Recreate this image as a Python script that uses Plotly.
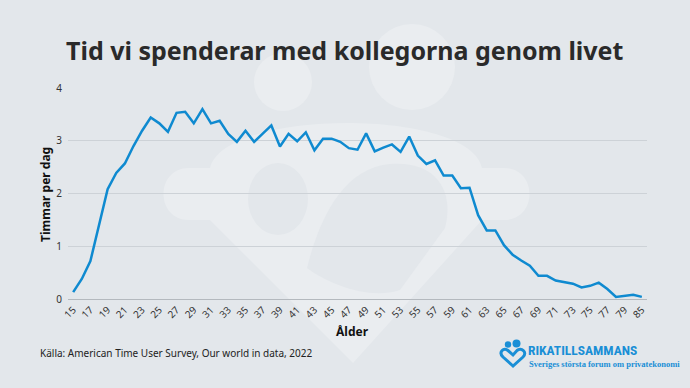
import plotly.graph_objects as go

ages = [str(a) for a in range(15, 81)] + ["85"]
hours = [0.13, 0.38, 0.72, 1.40, 2.08, 2.39, 2.57, 2.90, 3.19, 3.44,
         3.33, 3.17, 3.53, 3.55, 3.33, 3.60, 3.33, 3.38, 3.13, 2.98,
         3.19, 2.98, 3.14, 3.29, 2.89, 3.13, 2.99, 3.16, 2.82, 3.04,
         3.04, 2.98, 2.86, 2.83, 3.14, 2.80, 2.87, 2.93, 2.79, 3.08,
         2.72, 2.56, 2.63, 2.34, 2.34, 2.10, 2.11, 1.59, 1.30, 1.30,
         1.02, 0.84, 0.73, 0.63, 0.44, 0.44, 0.35, 0.32, 0.29, 0.22,
         0.25, 0.31, 0.19, 0.04, 0.06, 0.08, 0.04]
tick_labels = ages[0:65:2] + ["85"]
y_ticks = [0, 1, 2, 3, 4]

BG = "#e3e7eb"
WM = "#eaedf0"
BLUE = "#0f8ad0"
TXT = "#2a2a2a"

fig = go.Figure()
fig.add_trace(go.Scatter(x=ages, y=hours, mode="lines",
                         line=dict(color=BLUE, width=2.5), hoverinfo="skip"))

shapes = []
W, H = 690, 388
ml, mr, mt, mb = 68, 43, 88, 89
pw, ph = W - ml - mr, H - mt - mb


def px(x):
    return (x - ml) / pw


def py(y):
    return (H - mb - y) / ph


def ell(cx, cy, rx, ry, color, layer="below"):
    return dict(type="circle", xref="paper", yref="paper", layer=layer,
                x0=px(cx - rx), x1=px(cx + rx), y0=py(cy + ry), y1=py(cy - ry),
                fillcolor=color, line=dict(width=0))


def path(points_str, color):
    return dict(type="path", xref="paper", yref="paper", layer="below",
                path=points_str, fillcolor=color, line=dict(width=0))


def P(x, y):
    return f"{px(x):.5f},{py(y):.5f}"


# watermark
shapes.append(ell(283, 82, 29, 29, WM))
shapes.append(ell(412, 67, 43, 43, WM))
heart = ("M " + P(353, 363) + " L " + P(210, 220) + " L " + P(189, 220) +
         " C " + P(155, 220) + " " + P(155, 168) + " " + P(189, 168) +
         " L " + P(210, 168) +
         " C " + P(225, 108) + " " + P(470, 108) + " " + P(482, 168) +
         " L " + P(504, 168) +
         " C " + P(538, 168) + " " + P(538, 220) + " " + P(504, 220) +
         " L " + P(482, 220) + " Z")
shapes.append(path(heart, WM))
shapes.append(ell(278, 199, 30, 36, BG))
inner = ("M " + P(307, 268) + " C " + P(320, 215) + " " + P(345, 168) + " " + P(390, 164) +
         " C " + P(435, 160) + " " + P(455, 190) + " " + P(445, 228) +
         " L " + P(400, 290) +
         " C " + P(370, 300) + " " + P(330, 285) + " " + P(307, 268) + " Z")
shapes.append(path(inner, BG))

# small logo icon bottom right
LB = "#1a8fd6"
shapes.append(ell(508, 344.5, 3.2, 3.2, LB, "above"))
shapes.append(ell(516.5, 343.5, 4, 4, LB, "above"))
icon = ("M " + P(513, 366) + " L " + P(503, 357) + " C " + P(498, 352) + " " + P(504, 347) + " " + P(508, 350.5) +
        " L " + P(513, 355) + " L " + P(517, 350.5) + " C " + P(521, 347) + " " + P(528, 352) + " " + P(523, 357) + " Z")
shapes.append(dict(type="path", xref="paper", yref="paper", path=icon,
                   fillcolor="rgba(0,0,0,0)", line=dict(color=LB, width=3)))


def ann(text, x, y, size, color, xanchor="center", family=None, angle=0):
    f = dict(size=size, color=color)
    if family:
        f["family"] = family
    return dict(text=text, x=px(x), y=py(y), xref="paper", yref="paper",
                xanchor=xanchor, yanchor="middle", showarrow=False,
                textangle=angle, font=f)


fig.update_layout(
    width=W, height=H,
    margin=dict(l=ml, r=mr, t=mt, b=mb),
    paper_bgcolor=BG, plot_bgcolor="rgba(0,0,0,0)",
    showlegend=False,
    font=dict(family="Noto Sans, Open Sans, sans-serif", color=TXT),
    shapes=shapes,
    xaxis=dict(type="category", range=[-0.6, 66.6], tickmode="array",
               tickvals=tick_labels, ticktext=tick_labels, tickangle=-45,
               tickfont=dict(size=10, color="#333333"), showgrid=False,
               showline=True, linecolor="#b4b9be", linewidth=1.2,
               ticks="", ticklen=0, zeroline=False, fixedrange=True),
    yaxis=dict(range=[0, 4], tickvals=y_ticks, tickfont=dict(size=10, color="#333333"),
               showgrid=True, gridcolor="#cdd2d7", gridwidth=1, zeroline=False,
               ticks="", ticklabelstandoff=5, fixedrange=True),
    annotations=[
        ann("<b>Tid vi spenderar med kollegorna genom livet</b>", 345, 50, 25, TXT),
        ann("<b>Timmar per dag</b>", 45, 195, 12, "#111111", angle=-90),
        ann("<b>Ålder</b>", 352, 331, 12, "#111111"),
        ann("Källa: American Time User Survey, Our world in data, 2022", 38, 353, 10,
            "#222222", xanchor="left"),
        ann("<b>RIKATILLSAMMANS</b>", 526, 349.5, 13.5, LB, xanchor="left",
            family="Roboto Condensed, Roboto, Noto Sans"),
        ann("<b>Sveriges största forum om privatekonomi</b>", 527, 364, 8.5, LB, xanchor="left",
            family="Liberation Serif, DejaVu Serif, serif"),
    ],
)

fig.write_html("out.html", config={"displayModeBar": False},
               post_script="document.body.style.margin='0';document.body.style.background='#e3e7eb';")
